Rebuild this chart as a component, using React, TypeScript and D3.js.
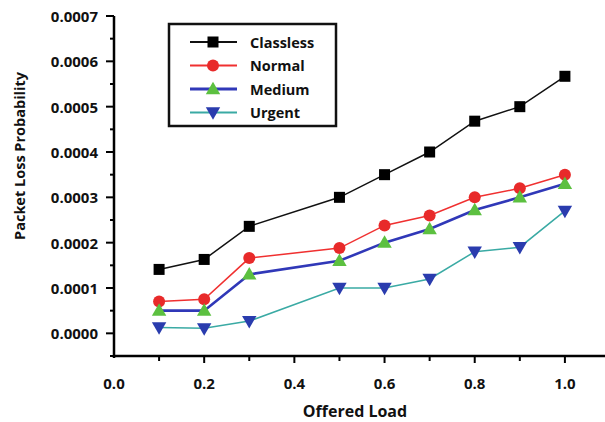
import { useEffect, useRef } from 'react';
import * as d3 from 'd3';

const loads = [0.1, 0.2, 0.3, 0.5, 0.6, 0.7, 0.8, 0.9, 1.0];
const classless = [0.000141, 0.000163, 0.000236, 0.0003, 0.00035, 0.0004, 0.000468, 0.0005, 0.000567];
const normal = [0.00007, 0.000075, 0.000166, 0.000188, 0.000238, 0.00026, 0.0003, 0.00032, 0.00035];
const medium = [0.00005, 0.00005, 0.00013, 0.00016, 0.0002, 0.00023, 0.000272, 0.0003, 0.00033];
const urgent = [0.000013, 0.000011, 0.000027, 0.0001, 0.0001, 0.00012, 0.00018, 0.00019, 0.00027];
const seriesNames = ['Classless', 'Normal', 'Medium', 'Urgent'];
const yTicks = [0, 0.0001, 0.0002, 0.0003, 0.0004, 0.0005, 0.0006, 0.0007];
const xTicks = [0, 0.2, 0.4, 0.6, 0.8, 1.0];

const FONT = '"Open Sans", "DejaVu Sans", sans-serif';

export default function App() {
  const ref = useRef<SVGSVGElement>(null);

  useEffect(() => {
    const W = 605, H = 422;
    const svg = d3.select(ref.current!).attr('width', W).attr('height', H);
    svg.selectAll('*').remove();

    const x = d3.scaleLinear().domain([0, 1.1]).range([114, 610]);
    const y = d3.scaleLinear().domain([-0.00005, 0.0007]).range([356, 16]);

    const styles = [
      { line: '#111', lw: 1.5, marker: 'square', fill: '#000' },
      { line: '#f03030', lw: 1.5, marker: 'circle', fill: '#e82a2a' },
      { line: '#3038b8', lw: 2.6, marker: 'tri', fill: '#5cc040' },
      { line: '#3aaaa4', lw: 1.5, marker: 'triDown', fill: '#2a3cae' },
    ];
    const data = [classless, normal, medium, urgent];

    // axes
    const ax = svg.append('g').attr('stroke', '#000');
    ax.append('line').attr('x1', x(0)).attr('x2', x(0)).attr('y1', y(0.0007)).attr('y2', 358).attr('stroke-width', 2.5);
    ax.append('line').attr('x1', x(0) - 1).attr('x2', W).attr('y1', 356).attr('y2', 356).attr('stroke-width', 2.5);
    d3.range(-1, 15).forEach(i => {
      const v = i * 0.00005;
      const major = i % 2 === 0;
      ax.append('line').attr('x1', x(0) - (major ? 8 : 4)).attr('x2', x(0))
        .attr('y1', y(v)).attr('y2', y(v)).attr('stroke-width', 2);
    });
    d3.range(1, 11).forEach(i => {
      const v = i / 10;
      ax.append('line').attr('x1', x(v)).attr('x2', x(v))
        .attr('y1', 356).attr('y2', i % 2 === 0 ? 363 : 361).attr('stroke-width', 2);
    });

    svg.append('g').selectAll('text').data(yTicks).join('text')
      .attr('x', 98).attr('y', d => y(d)).attr('text-anchor', 'end').attr('dominant-baseline', 'central')
      .attr('font-family', FONT).attr('font-weight', 700).attr('font-size', 15).attr('fill', '#111')
      .text(d => d.toFixed(4));
    svg.append('g').selectAll('text').data(xTicks).join('text')
      .attr('x', d => x(d)).attr('y', 383).attr('text-anchor', 'middle').attr('dominant-baseline', 'central')
      .attr('font-family', FONT).attr('font-weight', 700).attr('font-size', 15).attr('fill', '#111')
      .text(d => d.toFixed(1));

    svg.append('text').attr('x', 355).attr('y', 411).attr('text-anchor', 'middle').attr('dominant-baseline', 'central')
      .attr('font-family', FONT).attr('font-weight', 700).attr('font-size', 16).attr('fill', '#111')
      .text('Offered Load');
    svg.append('text').attr('transform', 'translate(19,156) rotate(-90)').attr('text-anchor', 'middle')
      .attr('dominant-baseline', 'central')
      .attr('font-family', FONT).attr('font-weight', 700).attr('font-size', 14.5).attr('fill', '#111')
      .text('Packet Loss Probability');

    const drawMarker = (g: any, kind: string, cx: number, cy: number, fill: string) => {
      if (kind === 'square') {
        g.append('rect').attr('x', cx - 5.5).attr('y', cy - 5.5).attr('width', 11).attr('height', 11).attr('fill', fill);
      } else if (kind === 'circle') {
        g.append('circle').attr('cx', cx).attr('cy', cy).attr('r', 6).attr('fill', fill);
      } else {
        const sym = d3.symbol().type(d3.symbolTriangle).size(90)();
        g.append('path').attr('d', sym)
          .attr('transform', `translate(${cx},${cy + (kind === 'tri' ? 1 : -1)}) ${kind === 'triDown' ? 'rotate(180)' : ''}`)
          .attr('fill', fill);
      }
    };

    const line = d3.line<number>().x((_, i) => x(loads[i])).y(d => y(d));
    data.forEach((vals, s) => {
      const st = styles[s];
      const g = svg.append('g');
      g.append('path').attr('d', line(vals)).attr('fill', 'none').attr('stroke', st.line).attr('stroke-width', st.lw);
      vals.forEach((v, i) => drawMarker(g, st.marker, x(loads[i]), y(v), st.fill));
    });

    // legend
    const lg = svg.append('g');
    lg.append('rect').attr('x', 169).attr('y', 24).attr('width', 167).attr('height', 102)
      .attr('fill', '#fff').attr('stroke', '#111').attr('stroke-width', 2.5);
    seriesNames.forEach((name, i) => {
      const st = styles[i];
      const ly = 42 + i * 23.5;
      lg.append('line').attr('x1', 190).attr('x2', 237).attr('y1', ly).attr('y2', ly)
        .attr('stroke', st.line).attr('stroke-width', st.lw + 0.5);
      drawMarker(lg, st.marker, 213, ly, st.fill);
      lg.append('text').attr('x', 250).attr('y', ly).attr('dominant-baseline', 'central')
        .attr('font-family', FONT).attr('font-weight', 700).attr('font-size', 14.5).attr('fill', '#111')
        .text(name);
    });
  }, []);

  return <svg ref={ref} style={{ position: 'absolute', left: 0, top: 0, background: '#fff' }} />;
}
